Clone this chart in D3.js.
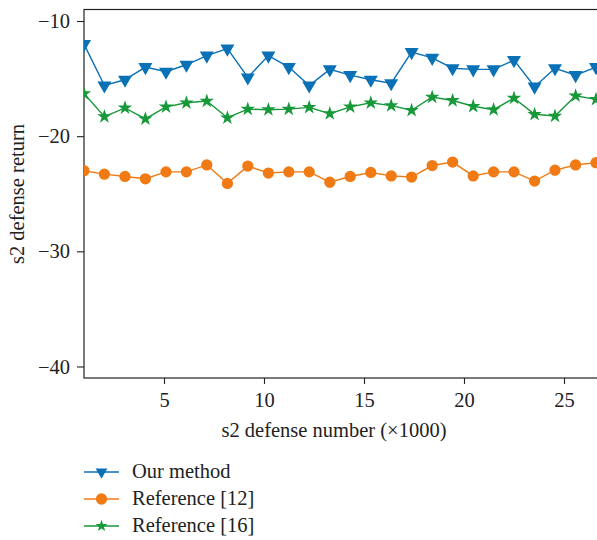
<!DOCTYPE html>
<html><head><meta charset="utf-8">
<script src="https://cdn.jsdelivr.net/npm/d3@7"></script>
<style>
body{margin:0;background:#fff;}
svg{display:block;}
</style></head>
<body><svg id="c" width="597" height="540"></svg>
<script>
const xValues = [1, 2.02, 3.05, 4.07, 5.1, 6.12, 7.14, 8.17, 9.19, 10.22, 11.24, 12.26, 13.29, 14.31, 15.34, 16.36, 17.38, 18.41, 19.43, 20.46, 21.48, 22.5, 23.53, 24.55, 25.58, 26.6];
const ourMethod = [-12.0, -15.6, -15.1, -14.0, -14.4, -13.8, -13.0, -12.4, -14.9, -13.0, -14.0, -15.6, -14.2, -14.7, -15.1, -15.4, -12.7, -13.2, -14.1, -14.2, -14.2, -13.4, -15.7, -14.1, -14.7, -14.0];
const ref12 = [-23.0, -23.3, -23.5, -23.7, -23.1, -23.1, -22.5, -24.1, -22.6, -23.2, -23.1, -23.1, -24.0, -23.5, -23.15, -23.45, -23.55, -22.55, -22.25, -23.45, -23.1, -23.1, -23.9, -22.95, -22.5, -22.3];
const ref16 = [-16.3, -18.3, -17.55, -18.5, -17.45, -17.1, -16.95, -18.4, -17.65, -17.7, -17.65, -17.5, -18.05, -17.45, -17.1, -17.35, -17.75, -16.6, -16.9, -17.4, -17.7, -16.7, -18.1, -18.25, -16.5, -16.8];
const xTicks = [5, 10, 15, 20, 25];
const yTicks = [-10, -20, -30, -40];
const seriesNames = ["Our method", "Reference [12]", "Reference [16]"];
const seriesColors = ["#0a71b6", "#f07a14", "#17993a"];

const FONT = '"Liberation Serif", "Times New Roman", serif';
const FS = 20.5;
const svg = d3.select("#c");
const L = 84, T = 9.5, B = 378, R = 620;
const x = d3.scaleLinear().domain([1, 27.8]).range([L, R]);
const y = d3.scaleLinear().domain([-41, -9]).range([B, T]);

svg.append("defs").append("clipPath").attr("id","clip")
  .append("rect").attr("x",L).attr("y",T).attr("width",R-L).attr("height",B-T);

svg.append("rect").attr("x",L).attr("y",T).attr("width",R-L).attr("height",B-T)
  .attr("fill","none").attr("stroke","#222").attr("stroke-width",1.2);

const xAxis = svg.append("g").attr("transform",`translate(0,${B})`)
  .call(d3.axisBottom(x).tickValues(xTicks).tickSize(6).tickPadding(8).tickFormat(d3.format("d")));
const yAxis = svg.append("g").attr("transform",`translate(${L},0)`)
  .call(d3.axisLeft(y).tickValues(yTicks).tickSize(7).tickPadding(7).tickFormat(d => "\u2212" + Math.abs(d)));
[xAxis, yAxis].forEach(g => {
  g.attr("font-family", FONT).attr("font-size", FS);
  g.select(".domain").remove();
  g.selectAll(".tick line").attr("stroke","#222").attr("stroke-width",1.1);
  g.selectAll(".tick text").attr("fill","#222").attr("font-family", FONT).attr("font-size", FS);
});

svg.append("text").attr("x",334).attr("y",437).attr("text-anchor","middle")
  .attr("font-family",FONT).attr("font-size",FS).attr("fill","#222").text("s2 defense number (\u00d71000)");
svg.append("text").attr("transform","translate(24,194) rotate(-90)").attr("text-anchor","middle")
  .attr("font-family",FONT).attr("font-size",FS).attr("fill","#222").text("s2 defense return");

const symTri = d3.symbol().type(d3.symbolTriangle).size(85);
const symCirc = d3.symbol().type(d3.symbolCircle).size(100);
const symStar = d3.symbol().type(d3.symbolStar).size(65);
const syms = [
  {path: symTri(), rot: 180},
  {path: symCirc(), rot: 0},
  {path: symStar(), rot: 0}
];
const allSeries = [ourMethod, ref12, ref16];
const plot = svg.append("g").attr("clip-path","url(#clip)");
const line = d3.line().x((d,i)=>x(xValues[i])).y(d=>y(d));
allSeries.forEach((s, k) => {
  const g = plot.append("g");
  g.append("path").datum(s).attr("d", line).attr("fill","none")
    .attr("stroke", seriesColors[k]).attr("stroke-width",1.4);
  g.selectAll("path.m").data(s).join("path").attr("class","m")
    .attr("d", syms[k].path).attr("fill", seriesColors[k])
    .attr("transform",(d,i)=>`translate(${x(xValues[i])},${y(d)}) rotate(${syms[k].rot})`);
});

const lg = svg.append("g");
seriesNames.forEach((n,k) => {
  const yy = 472 + k*27;
  lg.append("line").attr("x1",84).attr("x2",119).attr("y1",yy).attr("y2",yy)
    .attr("stroke",seriesColors[k]).attr("stroke-width",1.4);
  lg.append("path").attr("d", k===0 ? d3.symbol().type(d3.symbolTriangle).size(60)() : (k===1 ? symCirc() : d3.symbol().type(d3.symbolStar).size(45)()))
    .attr("fill",seriesColors[k]).attr("transform",`translate(101.5,${yy}) rotate(${syms[k].rot})`);
  lg.append("text").attr("x",132).attr("y",yy+6).attr("font-family",FONT).attr("font-size",FS)
    .attr("fill","#222").text(n);
});
</script></body></html>
